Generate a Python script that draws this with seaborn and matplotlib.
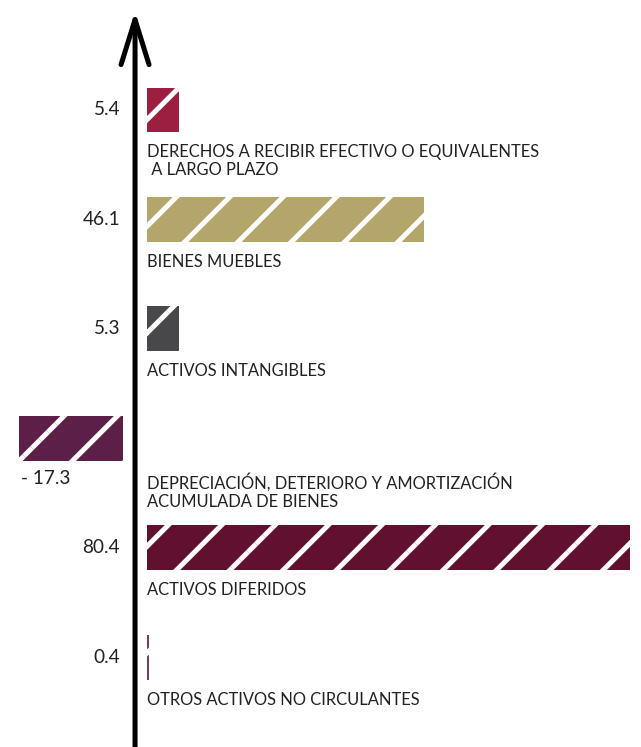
import pandas as pd
import matplotlib.pyplot as plt
import seaborn as sns
from matplotlib.transforms import ScaledTranslation

categories = [
    "DERECHOS A RECIBIR EFECTIVO O EQUIVALENTES\n A LARGO PLAZO",
    "BIENES MUEBLES",
    "ACTIVOS INTANGIBLES",
    "DEPRECIACIÓN, DETERIORO Y AMORTIZACIÓN\nACUMULADA DE BIENES",
    "ACTIVOS DIFERIDOS",
    "OTROS ACTIVOS NO CIRCULANTES",
]
values = [5.4, 46.1, 5.3, -17.3, 80.4, 0.4]
value_labels = ["5.4", "46.1", "5.3", "- 17.3", "80.4", "0.4"]
colors = ["#9c1f42", "#b4a56b", "#48484a", "#5c1f47", "#621030", "#7b3a64"]

DPI = 160  # dpi controls how far apart the hatch stripes are


def px(p):
    # pixels -> points
    return p * 72 / DPI


sns.set_theme(style="white")
plt.rcParams["font.family"] = ["Lato", "DejaVu Sans"]
plt.rcParams["hatch.linewidth"] = px(5)
plt.rcParams["hatch.color"] = "white"

fig = plt.figure(figsize=(641 / DPI, 747 / DPI), dpi=DPI)
ax = fig.add_axes([0, 0, 1, 1])

df = pd.DataFrame({"cat": categories, "val": values})
sns.barplot(data=df, x="val", y="cat", hue="cat", palette=colors, legend=False,
            orient="h", width=0.41, saturation=1, ax=ax,
            hatch="/", edgecolor="white", linewidth=0)

# small gap between the arrow and the bars
gap = 12
for p in ax.patches:
    sign = 1 if p.get_width() >= 0 else -1
    p.set_transform(ax.transData + ScaledTranslation(sign * gap / DPI, 0, fig.dpi_scale_trans))

ax.set_xlim(-22.5, 84.3)
ax.set_ylim(5.82, -1.005)
ax.axis("off")

txt = "#222222"
half = 0.41 / 2
for i, (v, lab, cat) in enumerate(zip(values, value_labels, categories)):
    if v >= 0:
        ax.annotate(lab, xy=(0, i), xytext=(-px(15), 0), textcoords="offset points",
                    ha="right", va="center", fontsize=px(19), color=txt)
    else:
        ax.annotate(lab, xy=(v, i + half), xytext=(-px(10), -px(18)), textcoords="offset points",
                    ha="left", va="center", fontsize=px(19), color=txt)
    ax.annotate(cat, xy=(0, i + half), xytext=(px(gap), -px(12)), textcoords="offset points",
                ha="left", va="top", fontsize=px(16.5), color=txt, linespacing=1.15)

# the vertical arrow
ax.annotate("", xy=(0, 0.985), xycoords=("data", "axes fraction"),
            xytext=(0, 0.0), textcoords=("data", "axes fraction"),
            arrowprops=dict(arrowstyle=f"->,head_length={px(45) / 10},head_width={px(14) / 10}",
                            lw=px(5), color="black", mutation_scale=10,
                            shrinkA=0, shrinkB=0))

fig.savefig("out.png", dpi=DPI)
